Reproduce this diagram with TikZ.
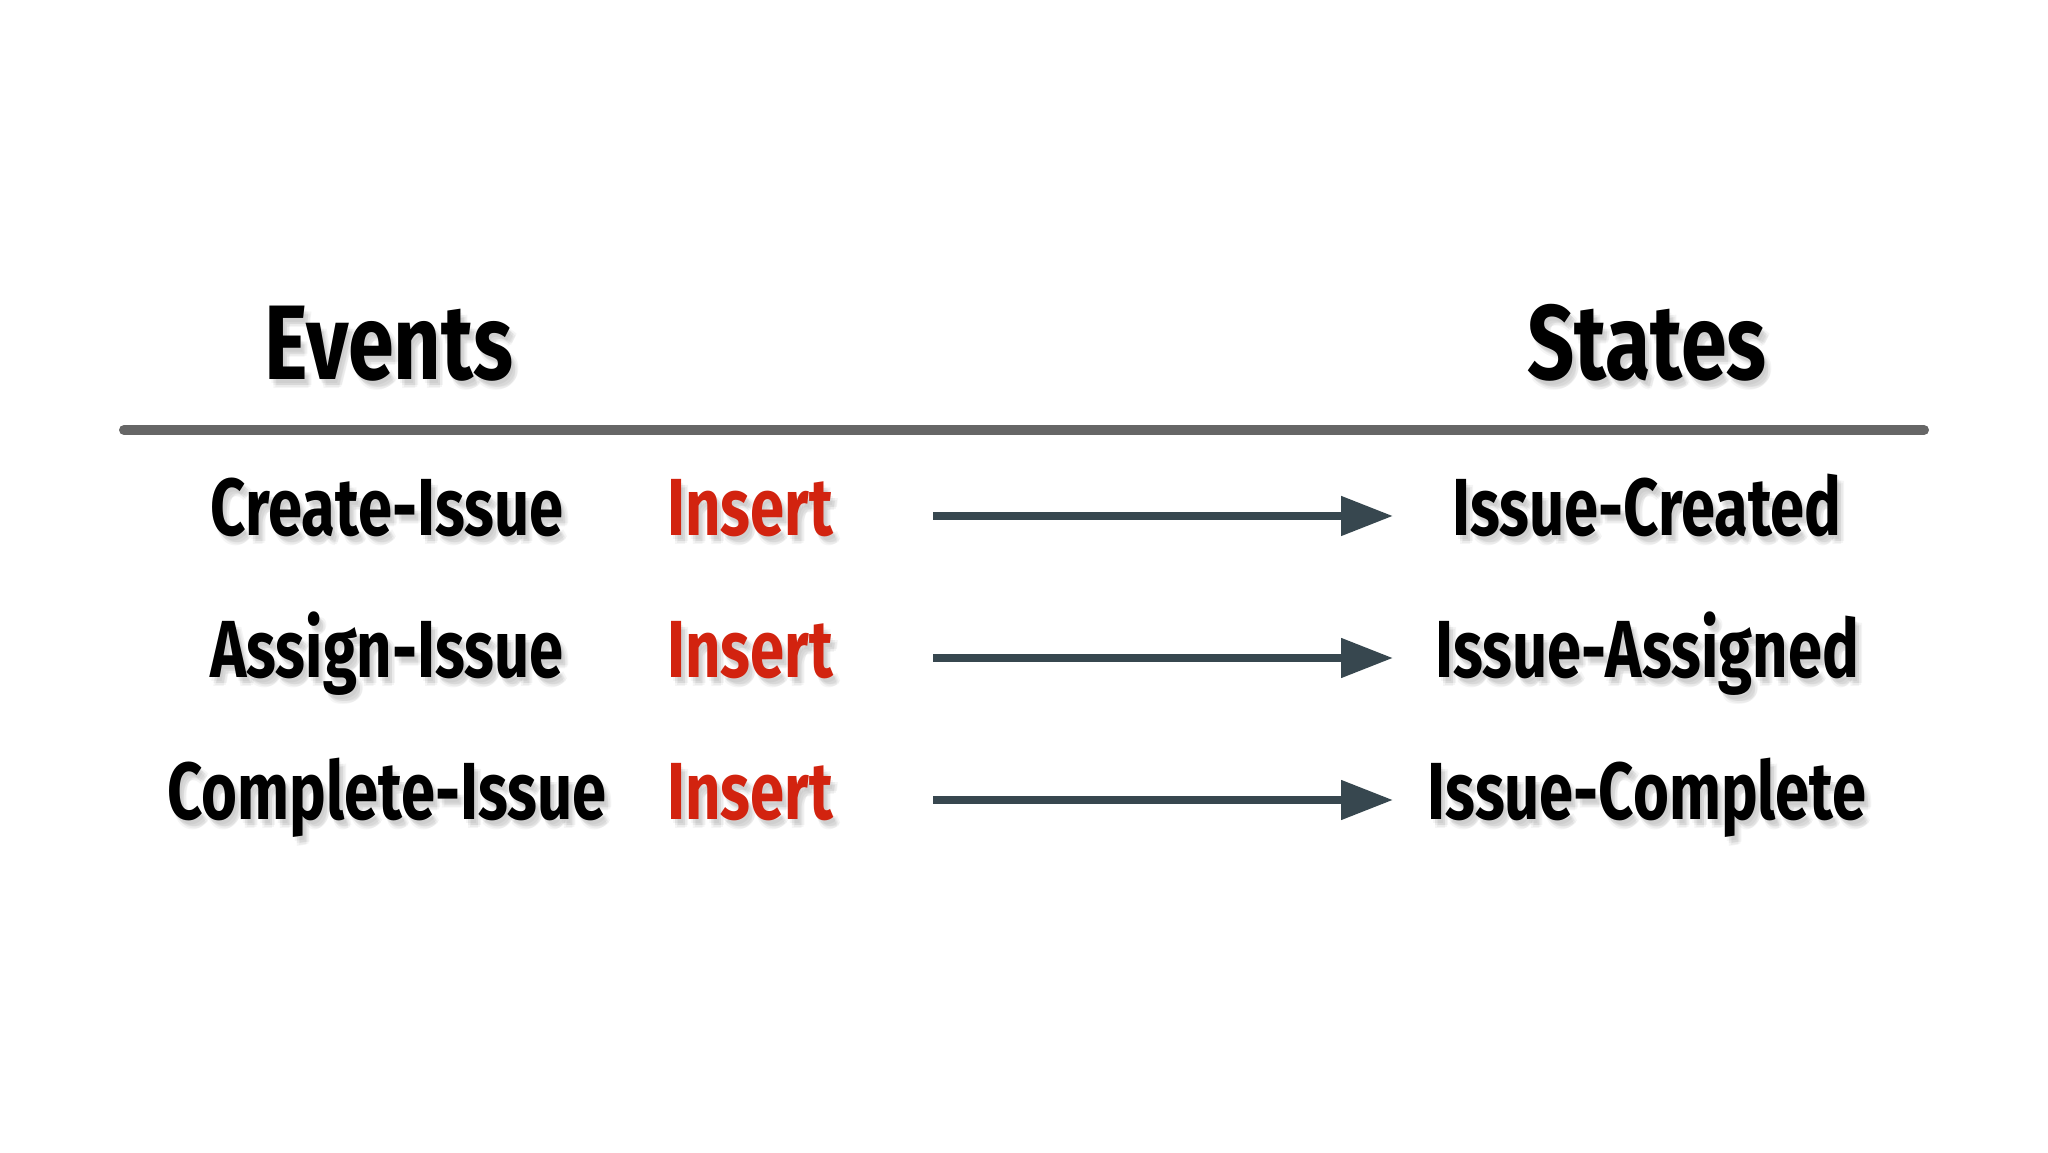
\documentclass[tikz,border=0pt]{standalone}
\usepackage{fontspec}
\setmainfont{Fira Sans}[UprightFont=* Bold, FakeStretch=0.76]
\newfontfamily\headfont{Fira Sans}[UprightFont=* Bold, FakeStretch=0.78]
\usetikzlibrary{arrows.meta}
\definecolor{insertred}{RGB}{210,35,15}
\definecolor{arrowgray}{RGB}{55,71,79}
\definecolor{rulegray}{RGB}{102,102,102}
\tikzset{
  head/.style={anchor=base, font=\headfont\fontsize{106}{106}\selectfont, inner sep=0pt},
  rowtxt/.style={anchor=base, font=\fontsize{81}{81}\selectfont, inner sep=0pt},
  shadow/.style={text=black, opacity=0.04},
  flow/.style={draw=arrowgray, line width=8pt, -{Triangle[length=52pt,width=38pt]}},
}
\begin{document}
\begin{tikzpicture}[x=1pt,y=1pt]
\useasboundingbox (0,0) rectangle (2048,1152);
\fill[white] (0,0) rectangle (2048,1152);
% soft shadows
\foreach \dx/\dy in {2/-4,4/-6,6/-8,4/-9,7/-6}{
  \node[head,shadow] (s-ev) at (389+\dx,772+\dy) {Events};
  \node[head,shadow] (s-st) at (1647+\dx,772+\dy) {States};
  \node[rowtxt,shadow] (s-e1) at (387+\dx,616+\dy) {Create-Issue};
  \node[rowtxt,shadow] (s-e2) at (387+\dx,474+\dy) {Assign-Issue};
  \node[rowtxt,shadow] (s-e3) at (387+\dx,332+\dy) {Complete-Issue};
  \node[rowtxt,shadow] (s-i1) at (750+\dx,616+\dy) {Insert};
  \node[rowtxt,shadow] (s-i2) at (750+\dx,474+\dy) {Insert};
  \node[rowtxt,shadow] (s-i3) at (750+\dx,332+\dy) {Insert};
  \node[rowtxt,shadow] (s-s1) at (1647+\dx,616+\dy) {Issue-Created};
  \node[rowtxt,shadow] (s-s2) at (1647+\dx,474+\dy) {Issue-Assigned};
  \node[rowtxt,shadow] (s-s3) at (1647+\dx,332+\dy) {Issue-Complete};
}
% headers
\node[head] (ev) at (389,772) {Events};
\node[head] (st) at (1647,772) {States};
\coordinate (rl) at (124,722);
\coordinate (rr) at (1924,722);
\draw[rulegray, line width=10pt, line cap=round] (rl) -- (rr);
% rows
\node[rowtxt] (e1) at (387,616) {Create-Issue};
\node[rowtxt] (e2) at (387,474) {Assign-Issue};
\node[rowtxt] (e3) at (387,332) {Complete-Issue};
\node[rowtxt,text=insertred] (i1) at (750,616) {Insert};
\node[rowtxt,text=insertred] (i2) at (750,474) {Insert};
\node[rowtxt,text=insertred] (i3) at (750,332) {Insert};
\node[rowtxt] (s1) at (1647,616) {Issue-Created};
\node[rowtxt] (s2) at (1647,474) {Issue-Assigned};
\node[rowtxt] (s3) at (1647,332) {Issue-Complete};
% arrows
\coordinate (a1s) at (933,636); \coordinate (a1e) at (1393,636);
\coordinate (a2s) at (933,494); \coordinate (a2e) at (1393,494);
\coordinate (a3s) at (933,352); \coordinate (a3e) at (1393,352);
\draw[flow] (a1s) -- (a1e);
\draw[flow] (a2s) -- (a2e);
\draw[flow] (a3s) -- (a3e);
\end{tikzpicture}
\end{document}
